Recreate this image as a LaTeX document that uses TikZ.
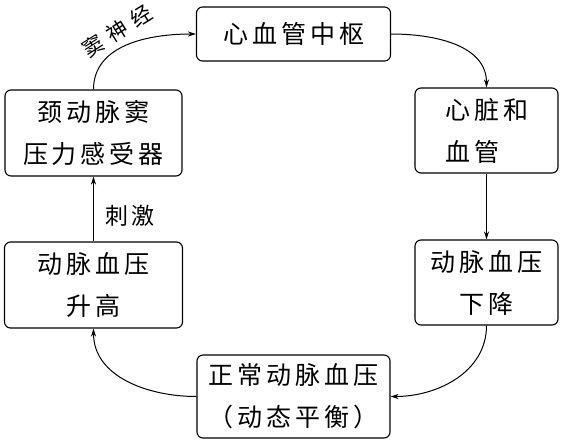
\documentclass[tikz,border=0pt]{standalone}
\usepackage{fontspec}
\usepackage{tikz}
\usetikzlibrary{arrows.meta}
\newfontfamily\cjk[LetterSpace=16]{Noto Sans CJK SC}
\newfontfamily\cjklab[LetterSpace=14]{Noto Sans CJK SC}
\newfontfamily\cjkarc[LetterSpace=36]{Noto Sans CJK SC}
\tikzset{
    regbox/.style={draw=black, line width=1.1pt, rounded corners=6pt, inner sep=0pt,
        font=\cjk\fontsize{25}{42}\selectfont, align=center},
    flow/.style={line width=1pt, -{Stealth[length=8pt, width=5pt]}},
    flowlab/.style={font=\cjklab\fontsize{23}{25}\selectfont, inner sep=0pt},
}

\begin{document}
\begin{tikzpicture}[x=1pt, y=-1pt]
    \newcommand\colL{93.5}
    \newcommand\colM{293.5}
    \newcommand\colR{486.5}

    \useasboundingbox (0, 0) rectangle (561, 442);

    \node[regbox, minimum width=194pt, minimum height=54pt] (centre) at (\colM, 34){心血管中枢};
    \node[regbox, minimum width=177pt, minimum height=86pt] (sensor) at (\colL, 133){颈动脉窦\\压力感受器};
    \node[regbox, minimum width=143pt, minimum height=85pt, align=left] (heart) at (\colR, 130.5){心脏和\\血管};
    \node[regbox, minimum width=143pt, minimum height=85pt] (drop) at (\colR, 282.5){动脉血压\\下降};
    \node[regbox, minimum width=178pt, minimum height=86pt] (rise) at (\colL, 285){动脉血压\\升高};
    \node[regbox, minimum width=193pt, minimum height=83pt] (normal) at (\colM, 396.5){正常动脉血压\\（动态平衡）};

    \draw[flow] (sensor.north) to[out=90, in=180] (centre.west);
    \draw[flow] (centre.east) to[out=0, in=90] (heart.north);
    \draw[flow] (heart.south) -- (drop.north);
    \draw[flow] (drop.south) to[out=-90, in=0] (normal.east);
    \draw[flow] (normal.west) to[out=180, in=-90] (rise.south);
    \draw[flow] (rise.north) -- (sensor.south);

    \node[flowlab, font=\cjkarc\fontsize{21}{25}\selectfont, rotate=32] (labSinus) at (117, 31){窦神经};
    \node[flowlab] (labStim) at (130, 216){刺激};
\end{tikzpicture}
\end{document}
